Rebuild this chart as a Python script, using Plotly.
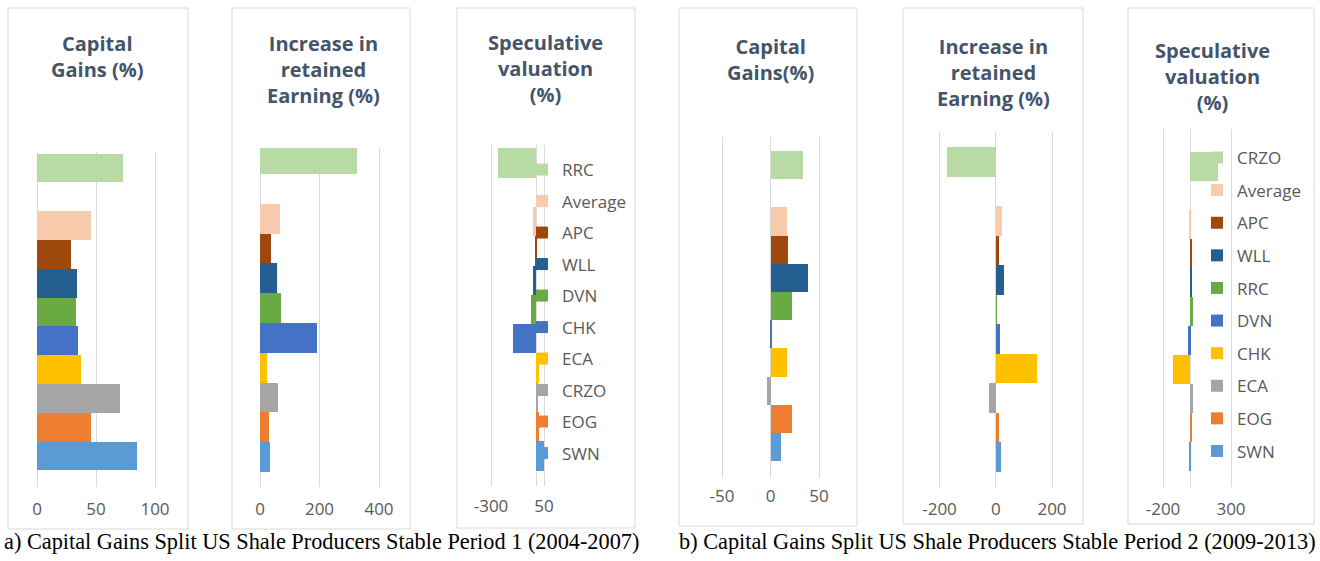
import plotly.graph_objects as go

W, H = 1320, 561

# ---------------- data ----------------
p1_names = ["RRC", "Average", "APC", "WLL", "DVN", "CHK", "ECA", "CRZO", "EOG", "SWN"]
p1_capital_gains = [73, 46, 28.5, 34, 33, 35, 37, 70.5, 46, 85]
p1_retained_earning = [327, 67, 37, 57, 70, 193, 23, 59, 29, 35]
p1_speculative = [-254, -20, -9, -23, -37, -158, 14, 12, 17, 50]

p2_names = ["CRZO", "Average", "APC", "WLL", "RRC", "DVN", "CHK", "ECA", "EOG", "SWN"]
p2_capital_gains = [33, 16.5, 18, 39, 22, 1.5, 17.5, -3.5, 22, 11]
p2_retained_earning = [-174, 20, 8, 27, 1, 15, 145, -27, 9, 18]
p2_speculative = [207, -3.5, 10, 12, 22, -13.5, -128, 23.5, 13, -7]

series_colors = ["#B8DAA4", "#F8CBAD", "#9E480E", "#255E91", "#6AAA42",
                 "#4472C4", "#FFC000", "#A5A5A5", "#ED7D31", "#5B9BD5"]
# row of each series in an 11-row band (row 1 is left empty, as in the original)
series_rows = [0, 2, 3, 4, 5, 6, 7, 8, 9, 10]
n_rows = 11

titles = ["Capital<br>Gains (%)",
          "Increase in<br>retained<br>Earning (%)",
          "Speculative<br>valuation<br>(%)",
          "Capital<br>Gains(%)",
          "Increase in<br>retained<br>Earning (%)",
          "Speculative<br>valuation<br>(%)"]
x_ranges = [[0, 100], [0, 400], [-300, 50], [-50, 50], [-200, 200], [-200, 300]]
x_ticks = [[0, 50, 100], [0, 200, 400], [-300, 50], [-50, 0, 50], [-200, 0, 200], [-200, 300]]
captions = ["a) Capital Gains Split US Shale Producers Stable Period 1 (2004-2007)",
            "b) Capital Gains Split US Shale Producers Stable Period 2 (2009-2013)"]

panel_values = [p1_capital_gains, p1_retained_earning, p1_speculative,
                p2_capital_gains, p2_retained_earning, p2_speculative]
panel_names = [p1_names] * 3 + [p2_names] * 3

# ---------------- layout geometry (pixels) ----------------
boxes = [(8, 8, 188, 529), (232, 8, 410, 529), (457, 8, 635, 528),
         (679, 8, 857, 526), (903, 8, 1083, 524), (1128, 8, 1314, 524)]
# pixel position of the first and last tick value of each axis
plot_x = [(37, 155), (260, 379), (491, 544), (722, 819), (939.5, 1052), (1163, 1231)]
# (plot top, plot bottom, centre of top bar, centre of bottom bar)
plot_y = [(152, 487, 168, 456), (148, 487, 159, 457), (145, 486, 163, 456),
          (137, 478, 165, 447), (132, 487, 162, 457), (129, 487, 166, 456)]
title_center_y = [57, 70, 68, 59, 72, 76]
title_x = [97, 323, 545, 770, 993, 1212]
tick_standoff = [10, 10, 8, 6, 10, 10]
EDGE_PAD = 2  # px so that gridlines on the range ends are drawn

TITLE_COLOR = "#44546A"
TEXT_COLOR = "#595959"
GRID = "#D9D9D9"
FONT = "Open Sans"


def fx(px):
    return px / W


def fy(py):
    return 1 - py / H


fig = go.Figure()

for k in range(6):
    ax = "" if k == 0 else str(k + 1)
    legend_id = None
    if k == 2:
        legend_id = "legend"
    elif k == 5:
        legend_id = "legend2"
    for i, (name, val) in enumerate(zip(panel_names[k], panel_values[k])):
        fig.add_trace(go.Bar(
            x=[val], y=[n_rows - 1 - series_rows[i]], orientation="h",
            width=1, name=name,
            marker=dict(color=series_colors[i], line=dict(width=0)),
            xaxis="x" + ax, yaxis="y" + ax,
            showlegend=legend_id is not None,
            legend=legend_id if legend_id else "legend",
            legendgroup=(f"{legend_id}_{name}" if legend_id else None),
            hovertemplate=f"{name}: %{{x}}<extra></extra>",
        ))

    x0, x1 = plot_x[k]
    r0, r1 = x_ranges[k]
    upp = (r1 - r0) / (x1 - x0)
    top, bot, c_top, c_bot = plot_y[k]
    unit = (c_bot - c_top) / (n_rows - 1)
    y_hi = (n_rows - 1) + (c_top - top) / unit
    y_lo = -(bot - c_bot) / unit

    fig.layout["xaxis" + ax] = dict(
        domain=[fx(x0 - EDGE_PAD), fx(x1 + EDGE_PAD)],
        range=[r0 - EDGE_PAD * upp, r1 + EDGE_PAD * upp],
        tickvals=x_ticks[k], ticktext=[str(v) for v in x_ticks[k]],
        showgrid=True, gridcolor=GRID, gridwidth=1,
        zeroline=True, zerolinecolor=GRID, zerolinewidth=1,
        showline=False, ticks="", ticklabelstandoff=tick_standoff[k],
        tickfont=dict(family=FONT, size=17, color=TEXT_COLOR),
        anchor="y" + ax, fixedrange=True)
    fig.layout["yaxis" + ax] = dict(
        domain=[fy(bot), fy(top)], range=[y_lo, y_hi],
        showgrid=False, zeroline=False, showline=False,
        showticklabels=False, ticks="", anchor="x" + ax, fixedrange=True)

    bx0, by0, bx1, by1 = boxes[k]
    fig.add_shape(type="rect", xref="paper", yref="paper",
                  x0=fx(bx0), x1=fx(bx1), y0=fy(by1), y1=fy(by0),
                  line=dict(color=GRID, width=1), fillcolor="white", layer="below")

    fig.add_annotation(text=titles[k], xref="paper", yref="paper",
                       x=fx(title_x[k]), y=fy(title_center_y[k]),
                       xanchor="center", yanchor="middle", align="center",
                       showarrow=False,
                       font=dict(family=FONT, size=20, color=TITLE_COLOR, weight="bold"))

fig.add_annotation(text=captions[0], xref="paper", yref="paper", x=fx(2), y=fy(541),
                   xanchor="left", yanchor="middle", showarrow=False,
                   font=dict(family="Liberation Serif", size=22.3, color="black"))
fig.add_annotation(text=captions[1], xref="paper", yref="paper", x=fx(677), y=fy(541),
                   xanchor="left", yanchor="middle", showarrow=False,
                   font=dict(family="Liberation Serif", size=22.3, color="black"))

legend_common = dict(xanchor="left", yanchor="top", bgcolor="rgba(0,0,0,0)",
                     borderwidth=0, itemwidth=30, traceorder="grouped",
                     font=dict(family=FONT, size=17, color=TEXT_COLOR),
                     itemclick=False, itemdoubleclick=False)

fig.update_layout(
    width=W, height=H, template="none",
    margin=dict(l=0, r=0, t=0, b=0),
    paper_bgcolor="white", plot_bgcolor="rgba(0,0,0,0)",
    barmode="overlay", bargap=0,
    legend=dict(x=fx(522), y=fy(152), tracegroupgap=6.4, **legend_common),
    legend2=dict(x=fx(1197), y=fy(140), tracegroupgap=7.5, **legend_common),
)

fig.write_html("out.html", config={"displayModeBar": False},
               post_script="document.body.style.margin='0px';")
